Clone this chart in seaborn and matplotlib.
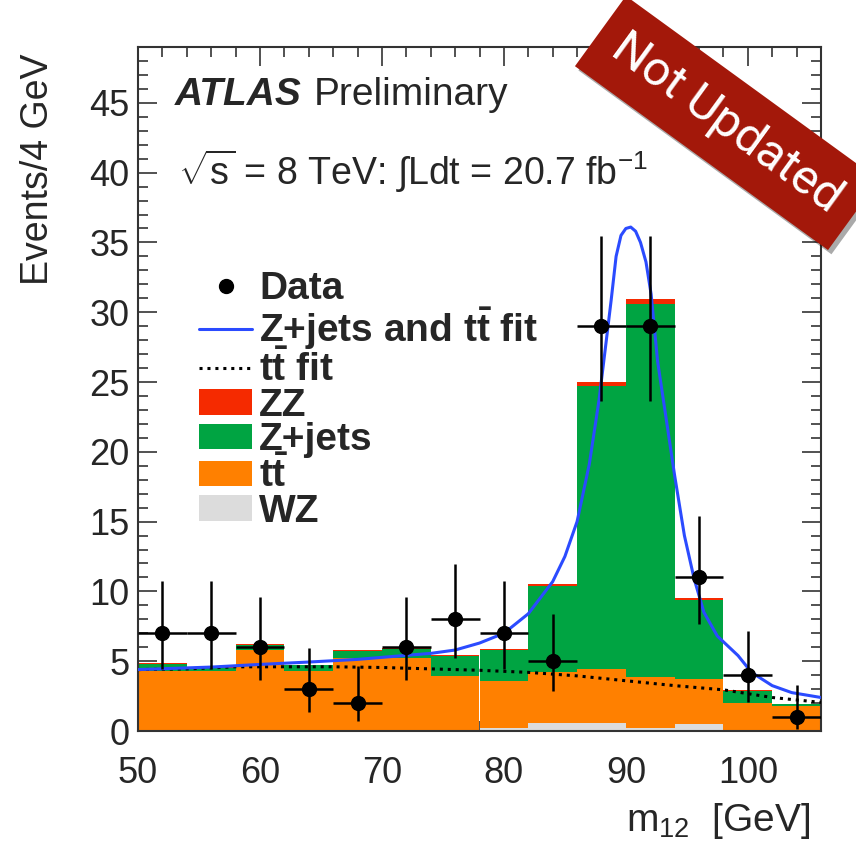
import numpy as np
import pandas as pd
import matplotlib
matplotlib.use("Agg")
import matplotlib.pyplot as plt
import seaborn as sns
from matplotlib.lines import Line2D
from matplotlib.patches import Patch
from matplotlib.ticker import MultipleLocator
from matplotlib.font_manager import FontProperties

# ---------------- data ----------------
bin_edges = [50, 54, 58, 62, 66, 70, 74, 78, 82, 86, 90, 94, 98, 102, 106]
bin_centers = [52, 56, 60, 64, 68, 72, 76, 80, 84, 88, 92, 96, 100, 104]

wz = [0.0, 0.0, 0.0, 0.0, 0.0, 0.0, 0.0, 0.2, 0.6, 0.6, 0.2, 0.5, 0.0, 0.0]
ttbar = [4.3, 4.3, 5.8, 4.3, 5.2, 5.2, 3.95, 3.4, 3.6, 3.85, 3.65, 3.2, 2.0, 1.8]
zjets = [0.5, 0.2, 0.35, 0.4, 0.55, 0.7, 1.45, 2.2, 6.2, 20.25, 26.75, 5.7, 0.9, 0.1]
zz = [0.05, 0.05, 0.05, 0.05, 0.05, 0.05, 0.05, 0.05, 0.1, 0.3, 0.35, 0.1, 0.05, 0.02]

data_counts = [7, 7, 6, 3, 2, 6, 8, 7, 5, 29, 29, 11, 4, 1]
data_err_low = [2.58, 2.58, 2.38, 1.63, 1.29, 2.38, 2.77, 2.58, 2.16, 5.37, 5.37, 3.3, 1.91, 0.83]
data_err_high = [3.77, 3.77, 3.58, 2.92, 2.64, 3.58, 3.95, 3.77, 3.38, 6.44, 6.44, 4.4, 3.16, 2.3]

fit_x = [50, 56, 60, 64, 68, 72, 74, 76, 78, 80, 82, 84, 85, 86, 87, 87.8, 88.4, 88.8,
         89.2, 89.6, 90.0, 90.4, 90.8, 91.2, 91.65, 92.07, 92.6, 93.3, 94.0, 94.8,
         95.6, 96.4, 97.5, 99.2, 100.3, 102, 103.6, 106]
fit_y = [4.4, 4.58, 4.77, 4.94, 5.13, 5.42, 5.56, 5.8, 6.3, 7.0, 8.4, 10.7, 12.5, 15.0,
         19.1, 23.7, 28.0, 30.9, 34.0, 35.5, 36.0, 36.1, 35.8, 35.0, 33.6, 31.3,
         26.5, 22.4, 18.3, 14.0, 10.9, 8.5, 6.8, 5.4, 4.2, 3.25, 2.75, 2.4]

ttfit_x = [50, 54, 58, 62, 66, 70, 74, 78, 82, 86, 90, 94, 98, 102, 106]
ttfit_y = [4.4, 4.45, 4.6, 4.6, 4.6, 4.55, 4.45, 4.35, 4.2, 3.95, 3.6, 3.25, 2.95, 2.4, 2.05]

processes = ["ZZ", "Z+jets", "tt", "WZ"]
colors = {"ZZ": "#F52A00", "Z+jets": "#00A442", "tt": "#FF8000", "WZ": "#DCDCDC"}
BLUE = "#2B4BFF"

x_ticks = [50, 60, 70, 80, 90, 100]
y_ticks = [0, 5, 10, 15, 20, 25, 30, 35, 40, 45]

# ---------------- style ----------------
sns.set_style("ticks")
plt.rcParams["font.family"] = ["Liberation Sans", "DejaVu Sans"]
plt.rcParams["mathtext.fontset"] = "custom"
plt.rcParams["mathtext.rm"] = "Liberation Sans"
plt.rcParams["mathtext.it"] = "Liberation Sans:italic"
plt.rcParams["mathtext.bf"] = "Liberation Sans:bold"

W, H = 856, 846
fig = plt.figure(figsize=(W / 100, H / 100), dpi=100)
fig.patch.set_facecolor("white")
ax = fig.add_axes([138 / W, 1 - 731 / H, 683 / W, 684 / H])

rows = []
for name, vals in zip(["WZ", "tt", "Z+jets", "ZZ"], [wz, ttbar, zjets, zz]):
    for c, v in zip(bin_centers, vals):
        rows.append({"m": c, "n": v, "process": name})
df = pd.DataFrame(rows)

sns.histplot(data=df, x="m", weights="n", hue="process", hue_order=processes,
             palette=colors, bins=bin_edges, multiple="stack", element="bars",
             linewidth=0, alpha=1, shrink=1, legend=False, ax=ax)

sns.lineplot(x=ttfit_x, y=ttfit_y, color="black", lw=2.2, linestyle=(0, (1, 1.6)),
             ax=ax, zorder=4)
sns.lineplot(x=fit_x, y=fit_y, color=BLUE, lw=2.2, ax=ax, zorder=4, sort=False)

ax.errorbar(bin_centers, data_counts, yerr=[data_err_low, data_err_high], xerr=2,
            fmt="o", color="black", ms=10, elinewidth=1.8, capsize=0, zorder=6)

ax.set_xlim(50, 106)
ax.set_ylim(0, 49)
ax.set_xticks(x_ticks)
ax.set_yticks(y_ticks)
ax.xaxis.set_minor_locator(MultipleLocator(2))
ax.yaxis.set_minor_locator(MultipleLocator(1))
ax.tick_params(which="both", direction="in", top=True, right=True, color="#333333",
               width=1.2)
ax.tick_params(which="major", length=14, labelsize=26)
ax.tick_params(which="minor", length=7)
ax.tick_params(axis="x", which="major", pad=18)
ax.tick_params(axis="y", which="major", pad=6)
for s in ax.spines.values():
    s.set_linewidth(1.5)
    s.set_color("#333333")
    s.set_visible(True)

ax.set_xlabel("m$_{12}$  [GeV]", fontsize=28, loc="right")
ax.xaxis.set_label_coords(0.985, -0.103)
ax.set_ylabel("Events/4 GeV", fontsize=27, loc="top")
ax.yaxis.set_label_coords(-0.12, 0.991)

# legend
handles = [
    Line2D([], [], marker="o", color="black", linestyle="none", markersize=10),
    Line2D([], [], color=BLUE, lw=2.2),
    Line2D([], [], color="black", lw=2.2, linestyle=(0, (1, 1.6))),
    Patch(facecolor=colors["ZZ"], edgecolor="none"),
    Patch(facecolor=colors["Z+jets"], edgecolor="none"),
    Patch(facecolor=colors["tt"], edgecolor="none"),
    Patch(facecolor=colors["WZ"], edgecolor="none"),
]
labels = ["Data", r"Z+jets and $\mathbf{t\bar{t}}$ fit", r"$\mathbf{t\bar{t}}$ fit",
          "ZZ", "Z+jets", r"$\mathbf{t\bar{t}}$", "WZ"]
ax.legend(handles, labels, loc="upper left", bbox_to_anchor=(0.09, 0.672),
          frameon=False, prop=FontProperties(family="Liberation Sans", weight="bold", size=28),
          handlelength=1.34, handleheight=0.64, handletextpad=0.2, labelspacing=-0.04,
          borderpad=0, borderaxespad=0)

# ATLAS labels
t1 = fig.text(175 / W, 1 - 105 / H, "ATLAS", fontsize=28, fontweight="bold",
              fontstyle="italic", va="baseline", ha="left")
fig.canvas.draw()
bb = t1.get_window_extent()
fig.text((bb.x1 + 12) / W, 1 - 105 / H, "Preliminary", fontsize=28, va="baseline", ha="left")
fig.text(178 / W, 1 - 185 / H, r"$\sqrt{\mathrm{s}}$ = 8 TeV: $\int$Ldt = 20.7 fb$^{-1}$",
         fontsize=27, va="baseline", ha="left")

# Not Updated banner (shadow + banner)
fig.text(727 / W + 0.004, 1 - 123 / H - 0.005, "Not Updated", fontsize=35,
         family="Roboto", color="#00000000",
         rotation=-36, rotation_mode="anchor", ha="center", va="center",
         bbox=dict(boxstyle="square,pad=0.42", facecolor="#00000055", edgecolor="none"),
         zorder=9)
fig.text(727 / W, 1 - 123 / H, "Not Updated", fontsize=35, family="Roboto", color="white",
         rotation=-36, rotation_mode="anchor", ha="center", va="center",
         bbox=dict(boxstyle="square,pad=0.42", facecolor="#A3180A", edgecolor="none"),
         zorder=10)

fig.savefig("out.png", dpi=100)
